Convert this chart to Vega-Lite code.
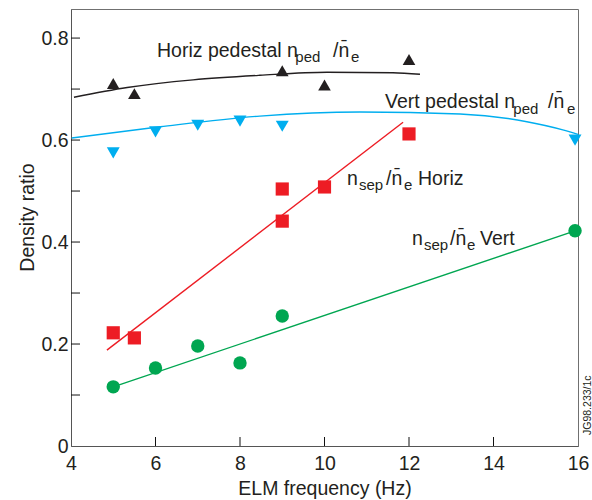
{
  "$schema": "https://vega.github.io/schema/vega-lite/v6.json",
  "width": 507,
  "height": 437,
  "autosize": {"type": "none"},
  "padding": {"left": 71, "top": 9, "right": 14, "bottom": 54},
  "background": "white",
  "config": {
    "font": "Liberation Sans",
    "view": {"stroke": "#707070", "strokeWidth": 1, "fill": null},
    "text": {"font": "Liberation Sans"}
  },
  "datasets": {
    "curves": [
      {"x": 4.07, "y": 0.684, "s": "hp"},
      {"x": 5.33, "y": 0.703, "s": "hp"},
      {"x": 6.89, "y": 0.718, "s": "hp"},
      {"x": 8.47, "y": 0.727, "s": "hp"},
      {"x": 10.06, "y": 0.733, "s": "hp"},
      {"x": 11.62, "y": 0.732, "s": "hp"},
      {"x": 12.26, "y": 0.729, "s": "hp"},
      {"x": 4.02, "y": 0.604, "s": "vp"},
      {"x": 6.11, "y": 0.626, "s": "vp"},
      {"x": 8.47, "y": 0.647, "s": "vp"},
      {"x": 10.84, "y": 0.655, "s": "vp"},
      {"x": 13.21, "y": 0.651, "s": "vp"},
      {"x": 14.79, "y": 0.636, "s": "vp"},
      {"x": 15.64, "y": 0.62, "s": "vp"},
      {"x": 16.0, "y": 0.611, "s": "vp"},
      {"x": 4.85, "y": 0.188, "s": "sh"},
      {"x": 11.86, "y": 0.635, "s": "sh"},
      {"x": 5.0, "y": 0.116, "s": "sv"},
      {"x": 15.93, "y": 0.422, "s": "sv"}
    ],
    "points": [
      {"x": 5.0, "y": 0.711, "s": "hp"},
      {"x": 5.5, "y": 0.691, "s": "hp"},
      {"x": 9.0, "y": 0.736, "s": "hp"},
      {"x": 10.0, "y": 0.708, "s": "hp"},
      {"x": 12.0, "y": 0.758, "s": "hp"},
      {"x": 5.0, "y": 0.575, "s": "vp"},
      {"x": 6.0, "y": 0.616, "s": "vp"},
      {"x": 7.0, "y": 0.629, "s": "vp"},
      {"x": 8.0, "y": 0.637, "s": "vp"},
      {"x": 9.0, "y": 0.627, "s": "vp"},
      {"x": 15.93, "y": 0.6, "s": "vp"},
      {"x": 5.0, "y": 0.222, "s": "sh"},
      {"x": 5.5, "y": 0.212, "s": "sh"},
      {"x": 9.0, "y": 0.504, "s": "sh"},
      {"x": 9.0, "y": 0.441, "s": "sh"},
      {"x": 10.0, "y": 0.508, "s": "sh"},
      {"x": 12.0, "y": 0.612, "s": "sh"},
      {"x": 5.0, "y": 0.116, "s": "sv"},
      {"x": 6.0, "y": 0.153, "s": "sv"},
      {"x": 7.0, "y": 0.196, "s": "sv"},
      {"x": 8.0, "y": 0.163, "s": "sv"},
      {"x": 9.0, "y": 0.255, "s": "sv"},
      {"x": 15.93, "y": 0.422, "s": "sv"}
    ],
    "mainText": [
      {"x": 6.035, "y": 0.763, "t": "Horiz pedestal n"},
      {"x": 10.201, "y": 0.763, "t": "/n̄"},
      {"x": 11.432, "y": 0.663, "t": "Vert pedestal n"},
      {"x": 15.29, "y": 0.663, "t": "/n̄"},
      {"x": 10.533, "y": 0.512, "t": "n"},
      {"x": 11.456, "y": 0.512, "t": "/n̄"},
      {"x": 12.213, "y": 0.512, "t": "Horiz"},
      {"x": 12.071, "y": 0.394, "t": "n"},
      {"x": 12.97, "y": 0.394, "t": "/n̄"},
      {"x": 13.68, "y": 0.394, "t": "Vert"}
    ],
    "subText": [
      {"x": 9.31, "y": 0.753, "t": "ped"},
      {"x": 10.627, "y": 0.753, "t": "e"},
      {"x": 14.47, "y": 0.651, "t": "ped"},
      {"x": 15.74, "y": 0.651, "t": "e"},
      {"x": 10.817, "y": 0.502, "t": "sep"},
      {"x": 11.882, "y": 0.502, "t": "e"},
      {"x": 12.355, "y": 0.384, "t": "sep"},
      {"x": 13.373, "y": 0.384, "t": "e"}
    ],
    "ref": [
      {"x": 16.24, "y": 0.08, "t": "JG98.233/1c"}
    ],
    "xTicks": [
      {"x": 6, "y": 0}, {"x": 8, "y": 0}, {"x": 10, "y": 0}, {"x": 12, "y": 0}, {"x": 14, "y": 0}
    ],
    "yTicks": [
      {"x": 4, "y": 0.1}, {"x": 4, "y": 0.2}, {"x": 4, "y": 0.3}, {"x": 4, "y": 0.4}, {"x": 4, "y": 0.5}, {"x": 4, "y": 0.6}, {"x": 4, "y": 0.7}, {"x": 4, "y": 0.8}
    ]
  },
  "encoding": {
    "x": {
      "field": "x",
      "type": "quantitative",
      "scale": {"domain": [4, 16], "nice": false, "zero": false},
      "axis": {
        "title": "ELM frequency (Hz)",
        "values": [4, 6, 8, 10, 12, 14, 16],
        "format": "d",
        "grid": false,
        "ticks": false,
        "domainColor": "#555555",
        "labelPadding": 23,
        "labelBaseline": "alphabetic",
        "labelFlush": false,
        "labelOverlap": false,
        "labelFontSize": 19.5,
        "labelColor": "#231f20",
        "titleFontSize": 19.5,
        "titleFontWeight": "normal",
        "titleColor": "#231f20",
        "titleBaseline": "alphabetic",
        "titleY": 48
      }
    },
    "y": {
      "field": "y",
      "type": "quantitative",
      "scale": {"domain": [0, 0.857], "nice": false, "zero": false},
      "axis": {
        "title": "Density ratio",
        "values": [0, 0.2, 0.4, 0.6, 0.8],
        "labelExpr": "datum.value == 0 ? '0' : format(datum.value, '.1f')",
        "grid": false,
        "ticks": false,
        "domainColor": "#555555",
        "labelPadding": 3,
        "labelFlush": false,
        "labelOverlap": false,
        "labelFontSize": 19.5,
        "labelColor": "#231f20",
        "titleFontSize": 19.5,
        "titleFontWeight": "normal",
        "titleColor": "#231f20",
        "titleBaseline": "alphabetic",
        "titleX": -38,
        "titleY": 208
      }
    }
  },
  "layer": [
    {
      "data": {"name": "xTicks"},
      "mark": {"type": "tick", "orient": "vertical", "size": 9, "thickness": 1, "yOffset": -4.5, "color": "#111111", "opacity": 1},
      "encoding": {}
    },
    {
      "data": {"name": "yTicks"},
      "mark": {"type": "tick", "orient": "horizontal", "size": 9, "thickness": 1, "xOffset": 4.5, "color": "#111111", "opacity": 1},
      "encoding": {}
    },
    {
      "data": {"name": "curves"},
      "mark": {"type": "line", "strokeWidth": 1.4, "interpolate": "monotone"},
      "encoding": {
        "color": {
          "field": "s",
          "type": "nominal",
          "scale": {"domain": ["hp", "vp", "sh", "sv"], "range": ["#231f20", "#00aeef", "#ed1c24", "#00a651"]},
          "legend": null
        }
      }
    },
    {
      "data": {"name": "points"},
      "mark": {"type": "point", "filled": true, "opacity": 1, "strokeWidth": 0},
      "encoding": {
        "color": {
          "field": "s",
          "type": "nominal",
          "scale": {"domain": ["hp", "vp", "sh", "sv"], "range": ["#231f20", "#00aeef", "#ed1c24", "#00a651"]},
          "legend": null
        },
        "shape": {
          "field": "s",
          "type": "nominal",
          "scale": {"domain": ["hp", "vp", "sh", "sv"], "range": ["triangle-up", "triangle-down", "square", "circle"]},
          "legend": null
        },
        "size": {
          "field": "s",
          "type": "nominal",
          "scale": {"domain": ["hp", "vp", "sh", "sv"], "range": [160, 180, 175, 115]},
          "legend": null
        }
      }
    },
    {
      "data": {"name": "mainText"},
      "mark": {"type": "text", "align": "left", "baseline": "alphabetic", "fontSize": 19.5, "color": "#231f20"},
      "encoding": {"text": {"field": "t"}}
    },
    {
      "data": {"name": "subText"},
      "mark": {"type": "text", "align": "left", "baseline": "alphabetic", "fontSize": 15, "color": "#231f20"},
      "encoding": {"text": {"field": "t"}}
    },
    {
      "data": {"name": "ref"},
      "mark": {"type": "text", "align": "center", "baseline": "middle", "angle": 270, "fontSize": 10.5, "color": "#231f20"},
      "encoding": {"text": {"field": "t"}}
    }
  ]
}
